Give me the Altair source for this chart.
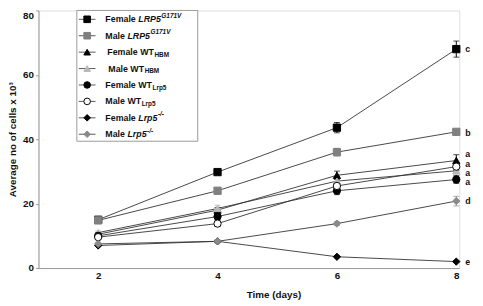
import altair as alt
import pandas as pd

days = [2, 4, 6, 8]
series = ["Female LRP5G171V", "Male LRP5G171V", "Female WT_HBM", "Male WT_HBM",
          "Female WT_Lrp5", "Male WT_Lrp5", "Female Lrp5-/-", "Male Lrp5-/-"]
values = [
    [15.0, 29.8, 43.6, 68.0],
    [14.8, 24.0, 36.0, 42.3],
    [10.5, 18.0, 28.8, 33.4],
    [11.0, 18.5, 27.0, 30.2],
    [10.0, 16.0, 24.0, 27.5],
    [9.6, 13.8, 25.5, 31.5],
    [7.0, 8.3, 3.5, 2.0],
    [7.5, 8.3, 13.8, 20.8],
]
errors = [
    [0.6, 0.6, 1.6, 2.5],
    [0.6, 0.8, 1.2, 0.8],
    [0.5, 0.8, 1.3, 1.8],
    [0.5, 1.0, 1.0, 1.0],
    [0.5, 0.8, 1.2, 1.2],
    [0.5, 0.8, 1.0, 1.2],
    [0.3, 0.3, 0.3, 0.3],
    [0.5, 0.5, 0.6, 1.5],
]
letters = ["c", "b", "a", "a", "a", "a", "d", "e"]
letter_y = [68.0, 42.0, 35.3, 32.4, 29.5, 26.6, 20.8, 2.0]

shapes = ["square", "square", "triangle-up", "triangle-up", "circle", "circle", "diamond", "diamond"]
fills = ["#000000", "#808080", "#000000", "#b8b8b8", "#000000", "#ffffff", "#000000", "#8a8a8a"]
strokes = ["#000000", "#808080", "#000000", "#b8b8b8", "#000000", "#000000", "#000000", "#8a8a8a"]
ebar = ["#000000", "#808080", "#000000", "#a0a0a0", "#000000", "#000000", "#000000", "#8a8a8a"]

# legend label pieces
leg_main = ["Female", "Male", "Female WT", "Male WT", "Female WT", "Male WT", "Female", "Male"]
leg_main_x = [107, 107, 109, 110, 107, 107, 107, 107]
leg_ital = ["LRP5", "LRP5", "", "", "", "", "Lrp5", "Lrp5"]
leg_ital_x = [140.5, 129.5, 0, 0, 0, 0, 140.5, 129.5]
leg_small = ["G171V", "G171V", "HBM", "HBM", "Lrp5", "Lrp5", "-/-", "-/-"]
leg_small_x = [164.0, 153.0, 157.0, 147.0, 155.0, 144.0, 160.5, 149.5]
leg_sup = [True, True, False, False, False, False, True, True]

# geometry
W, H = 428, 262
X0, X1 = 1.0, 8.05
LEFT, TOP = 39, 8


def dxp(px):
    return X0 + (px - LEFT) / W * (X1 - X0)


def dyp(py):
    return 80 - (py - TOP) / H * 80


rows = []
for s, vals, errs in zip(series, values, errors):
    for d, v, e in zip(days, vals, errs):
        rows.append({"series": s, "day": d, "value": v, "lo": v - e, "hi": v + e})
df = pd.DataFrame(rows)
caps = pd.concat([
    df.assign(cap=df["lo"]),
    df.assign(cap=df["hi"]),
])

shape_sc = alt.Scale(domain=series, range=shapes)
fill_sc = alt.Scale(domain=series, range=fills)
stroke_sc = alt.Scale(domain=series, range=strokes)
ebar_sc = alt.Scale(domain=series, range=ebar)

xs = alt.Scale(domain=[X0, X1], nice=False, zero=False)
ys = alt.Scale(domain=[0, 80], nice=False)

x_axis = alt.Axis(values=days, format="d", ticks=False, grid=False, domainColor="#999999",
                  labelFontWeight="bold", labelFontSize=10, labelPadding=3,
                  labelColor="#111111", title="Time (days)", titleFontSize=10,
                  titleFontWeight="bold", titleX=239, titleY=27,
                  titleBaseline="middle", titleColor="#111111")
y_axis = alt.Axis(values=[0, 10, 20, 30, 40, 50, 60, 70, 80], grid=False,
                  labelExpr="datum.value % 20 == 0 ? datum.label : ''",
                  labelBaseline={"condition": {"test": "datum.value == 80", "value": "top"},
                                 "value": "middle"},
                  domainColor="#999999", tickColor="#999999", tickSize=3,
                  labelFontWeight="bold", labelFontSize=10, labelPadding=2,
                  labelColor="#111111", title="Average no of cells x 10³",
                  titleFontSize=10, titleFontWeight="bold", titlePadding=5,
                  titleColor="#111111")

base = alt.Chart(df)
lines = base.mark_line(color="#333333", strokeWidth=0.9).encode(
    x=alt.X("day:Q", scale=xs, axis=x_axis),
    y=alt.Y("value:Q", scale=ys, axis=y_axis),
    detail="series:N",
)
bars = base.mark_rule(strokeWidth=1).encode(
    x="day:Q", y="lo:Q", y2="hi:Q",
    color=alt.Color("series:N", scale=ebar_sc, legend=None),
)
capm = alt.Chart(caps).mark_tick(orient="horizontal", size=6, thickness=1).encode(
    x="day:Q", y="cap:Q",
    color=alt.Color("series:N", scale=ebar_sc, legend=None),
)
pts = base.mark_point(size=55, strokeWidth=1, opacity=1, fillOpacity=1).encode(
    x="day:Q", y="value:Q",
    shape=alt.Shape("series:N", scale=shape_sc, legend=None),
    fill=alt.Fill("series:N", scale=fill_sc, legend=None),
    stroke=alt.Stroke("series:N", scale=stroke_sc, legend=None),
)

let_df = pd.DataFrame({"t": letters, "y": letter_y, "x": [8] * len(letters)})
lets = alt.Chart(let_df).mark_text(align="left", baseline="middle", dx=9,
                                   fontWeight="bold", fontSize=9, color="#111111").encode(
    x="x:Q", y="y:Q", text="t:N")

# legend
row_y = [17 + 16.7 * i for i in range(len(series))]
box_df = pd.DataFrame({"x": [dxp(78)], "x2": [dxp(201)], "y": [dyp(TOP)], "y2": [dyp(141)]})
box = alt.Chart(box_df).mark_rect(fill="white", stroke="#999999", strokeWidth=1).encode(
    x="x:Q", x2="x2:Q", y="y:Q", y2="y2:Q")
lrow = pd.DataFrame({"series": series, "x": dxp(80), "x2": dxp(97),
                     "xs": dxp(88.5), "y": [dyp(v) for v in row_y]})
lrules = alt.Chart(lrow).mark_rule(color="#444444", strokeWidth=0.9).encode(
    x="x:Q", x2="x2:Q", y="y:Q")
lsyms = alt.Chart(lrow).mark_point(size=45, strokeWidth=1, opacity=1, fillOpacity=1).encode(
    x="xs:Q", y="y:Q",
    shape=alt.Shape("series:N", scale=shape_sc, legend=None),
    fill=alt.Fill("series:N", scale=fill_sc, legend=None),
    stroke=alt.Stroke("series:N", scale=stroke_sc, legend=None),
)
main_df = pd.DataFrame({"t": leg_main, "x": [dxp(v) for v in leg_main_x],
                        "y": [dyp(v) for v in row_y]})
ital_df = pd.DataFrame({"t": leg_ital, "x": [dxp(v) for v in leg_ital_x],
                        "y": [dyp(v) for v in row_y]})
ital_df = ital_df[ital_df["t"] != ""]
sup_df = pd.DataFrame({"t": [t for t, s in zip(leg_small, leg_sup) if s],
                       "x": [dxp(v) for v, s in zip(leg_small_x, leg_sup) if s],
                       "y": [dyp(r - 3.5) for r, s in zip(row_y, leg_sup) if s]})
sub_df = pd.DataFrame({"t": [t for t, s in zip(leg_small, leg_sup) if not s],
                       "x": [dxp(v) for v, s in zip(leg_small_x, leg_sup) if not s],
                       "y": [dyp(r + 3) for r, s in zip(row_y, leg_sup) if not s]})

tmain = alt.Chart(main_df).mark_text(align="left", baseline="middle", fontSize=9,
                                     fontWeight="bold", color="#111111").encode(
    x="x:Q", y="y:Q", text="t:N")
tital = alt.Chart(ital_df).mark_text(align="left", baseline="middle", fontSize=9,
                                     fontWeight="bold", fontStyle="italic",
                                     color="#111111").encode(
    x="x:Q", y="y:Q", text="t:N")
tsup = alt.Chart(sup_df).mark_text(align="left", baseline="middle", fontSize=6.5,
                                   fontWeight="bold", fontStyle="italic",
                                   color="#111111").encode(
    x="x:Q", y="y:Q", text="t:N")
tsub = alt.Chart(sub_df).mark_text(align="left", baseline="middle", fontSize=6.5,
                                   fontWeight="bold", color="#111111").encode(
    x="x:Q", y="y:Q", text="t:N")

chart = alt.layer(lines, bars, capm, pts, lets, box, lrules, lsyms,
                  tmain, tital, tsup, tsub).properties(
    width=W, height=H,
    autosize=alt.AutoSizeParams(type="none"),
    padding={"left": 31, "top": 0, "right": 16, "bottom": 30},
).configure_view(stroke=None).configure(font="Liberation Sans")

chart.save("out.html", embed_options={"renderer": "svg", "actions": False})
